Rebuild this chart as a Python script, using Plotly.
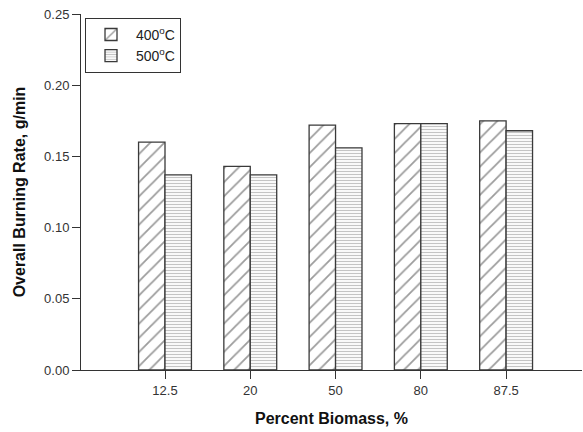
import plotly.graph_objects as go

# Burning rate by biomass fraction at two temperatures
biomass = ["12.5", "20", "50", "80", "87.5"]
rate_400 = [0.160, 0.143, 0.172, 0.173, 0.175]
rate_500 = [0.137, 0.137, 0.156, 0.173, 0.168]
y_ticks = [0.00, 0.05, 0.10, 0.15, 0.20, 0.25]

FONT = "Liberation Sans, Arial, sans-serif"
EDGE = "#3a3a3a"

fig = go.Figure()
fig.add_trace(go.Bar(
    x=biomass, y=rate_400, name="400<sup>o</sup>C",
    marker=dict(color="white", line=dict(color=EDGE, width=1.3),
                pattern=dict(shape="/", fgcolor="#3a3a3a", bgcolor="white",
                             size=10, solidity=0.18)),
))
fig.add_trace(go.Bar(
    x=biomass, y=rate_500, name="500<sup>o</sup>C",
    marker=dict(color="white", line=dict(color=EDGE, width=1.3),
                pattern=dict(shape="-", fgcolor="#8a8a8a", bgcolor="white",
                             size=3, solidity=0.4)),
))

fig.update_layout(
    width=583, height=432,
    margin=dict(l=81, r=1, t=14, b=62),
    paper_bgcolor="white", plot_bgcolor="white",
    barmode="group", bargap=0.38, bargroupgap=0,
    font=dict(family=FONT, size=13, color="#222222"),
    showlegend=True,
    legend=dict(x=0.008, y=0.989, xanchor="left", yanchor="top",
                bordercolor="#333333", borderwidth=1,
                font=dict(family=FONT, size=14, color="#222222"),
                bgcolor="white", tracegroupgap=2, itemwidth=40),
)
fig.update_xaxes(
    type="category", range=[-0.985, 4.89],
    showline=True, linecolor="#333333", linewidth=1,
    ticks="outside", ticklen=8, tickcolor="#333333",
    showgrid=False, zeroline=False,
    tickfont=dict(family=FONT, size=13, color="#333333"),
    title=dict(text="<b>Percent Biomass, %</b>", standoff=16,
               font=dict(family=FONT, size=16, color="#111111")),
)
fig.update_yaxes(
    range=[0, 0.25], tickvals=y_ticks, tickformat=".2f",
    showline=True, linecolor="#333333", linewidth=1,
    ticks="outside", ticklen=8, tickcolor="#333333",
    showgrid=False, zeroline=False,
    tickfont=dict(family=FONT, size=13, color="#333333"),
    title=dict(text="<b>Overall Burning Rate, g/min</b>", standoff=14,
               font=dict(family=FONT, size=16, color="#111111")),
)

fig.write_html("out.html")
